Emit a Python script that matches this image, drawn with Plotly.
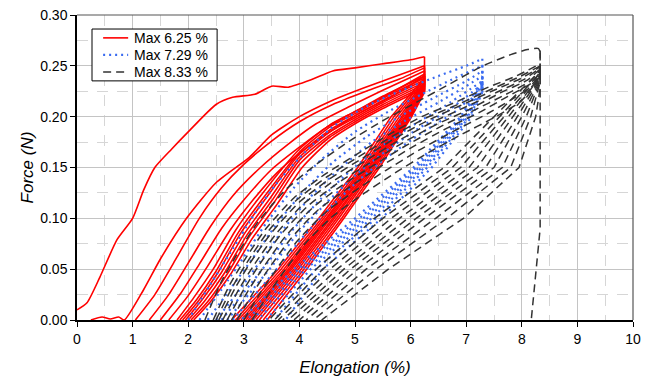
import plotly.graph_objects as go

# ---------------- data ----------------
X_TICKS = [0, 1, 2, 3, 4, 5, 6, 7, 8, 9, 10]
Y_TICKS = [0.00, 0.05, 0.10, 0.15, 0.20, 0.25, 0.30]
SERIES_NAMES = ["Max 6.25 %", "Max 7.29 %", "Max 8.33 %"]
PEAK_X = [6.25, 7.29, 8.33]
UNLOAD_LEVELS = [0.20, 0.15, 0.10, 0.05, 0.0]

# --- Max 6.25 % (red) : loading curves
RED_LOAD_X = [
    [0, 0.18, 0.41, 0.72, 1.0, 1.2, 1.4, 1.7, 2.0, 2.5, 2.8, 3.2, 3.5, 3.8, 4.2, 4.6, 5.0, 5.5, 6.0, 6.25],
    [0.25, 0.45, 0.6, 0.75, 0.85, 1.2, 1.5, 1.97, 2.5, 3.1, 3.5, 4.0, 4.55, 5.0, 5.5, 6.25],
    [1.05, 1.4, 1.8, 2.2, 2.6, 3.0, 3.5, 4.0, 4.6, 5.2, 5.8, 6.25],
    [1.3, 1.65, 2.0, 2.4, 2.8, 3.3, 3.8, 4.3, 4.9, 5.5, 6.25],
    [1.5, 1.85, 2.2, 2.6, 3.0, 3.5, 4.0, 4.5, 5.0, 5.6, 6.25],
    [1.65, 2.0, 2.35, 2.75, 3.15, 3.6, 4.1, 4.6, 5.1, 5.7, 6.25],
    [1.8, 2.1, 2.45, 2.85, 3.3, 4.0, 4.55, 5.0, 5.5, 6.25],
    [1.85, 2.15, 2.5, 2.9, 3.35, 4.0, 4.55, 5.0, 5.5, 6.25],
    [1.9, 2.2, 2.55, 2.95, 3.4, 4.0, 4.55, 5.0, 5.5, 6.25],
    [1.95, 2.25, 2.6, 3.0, 3.45, 4.0, 4.55, 5.0, 5.5, 6.25],
    [2.0, 2.3, 2.65, 3.05, 3.5, 4.0, 4.55, 5.0, 5.5, 6.25],
    [2.05, 2.35, 2.7, 3.1, 3.55, 4.0, 4.55, 5.0, 5.5, 6.25],
    [2.1, 2.4, 2.75, 3.15, 3.6, 4.05, 4.55, 5.0, 5.5, 6.25],
]
RED_LOAD_Y = [
    [0.01, 0.017, 0.042, 0.079, 0.10, 0.128, 0.15, 0.168, 0.185, 0.212, 0.219, 0.222, 0.23, 0.229, 0.236, 0.245, 0.248, 0.252, 0.256, 0.259],
    [0, 0.003, 0.001, 0.003, 0, 0.03, 0.06, 0.10, 0.135, 0.16, 0.182, 0.2, 0.215, 0.225, 0.235, 0.25],
    [0, 0.025, 0.062, 0.10, 0.13, 0.153, 0.176, 0.195, 0.212, 0.225, 0.237, 0.248],
    [0, 0.025, 0.056, 0.092, 0.122, 0.15, 0.173, 0.193, 0.21, 0.226, 0.245],
    [0, 0.025, 0.055, 0.09, 0.118, 0.148, 0.17, 0.19, 0.205, 0.222, 0.242],
    [0, 0.024, 0.053, 0.088, 0.117, 0.145, 0.168, 0.187, 0.204, 0.221, 0.24],
    [0, 0.022, 0.05, 0.088, 0.122, 0.168, 0.192, 0.205, 0.22, 0.24],
    [0, 0.02, 0.048, 0.086, 0.12, 0.165, 0.19, 0.203, 0.218, 0.238],
    [0, 0.02, 0.048, 0.086, 0.12, 0.163, 0.187, 0.201, 0.216, 0.236],
    [0, 0.02, 0.047, 0.084, 0.118, 0.16, 0.185, 0.199, 0.214, 0.234],
    [0, 0.019, 0.046, 0.083, 0.117, 0.157, 0.182, 0.197, 0.212, 0.232],
    [0, 0.018, 0.045, 0.082, 0.116, 0.153, 0.18, 0.195, 0.21, 0.23],
    [0, 0.018, 0.044, 0.08, 0.114, 0.15, 0.177, 0.193, 0.208, 0.228],
]
# --- red unloading curves: force at the peak, then elongation at UNLOAD_LEVELS
RED_UNLOAD_TOP = [0.238, 0.236, 0.234, 0.233, 0.232, 0.231, 0.23, 0.229, 0.228, 0.227, 0.226, 0.225, 0.224]
RED_UNLOAD_X = [
    [5.65, 5.05, 4.35, 3.62, 2.78],
    [5.7, 5.1, 4.4, 3.67, 2.85],
    [5.75, 5.14, 4.44, 3.72, 2.9],
    [5.8, 5.17, 4.48, 3.76, 2.95],
    [5.84, 5.2, 4.5, 3.8, 3.0],
    [5.87, 5.23, 4.53, 3.83, 3.04],
    [5.9, 5.25, 4.56, 3.86, 3.08],
    [5.92, 5.28, 4.6, 3.9, 3.12],
    [5.94, 5.3, 4.63, 3.94, 3.17],
    [5.96, 5.33, 4.67, 3.98, 3.22],
    [5.98, 5.36, 4.71, 4.03, 3.28],
    [6.0, 5.4, 4.76, 4.08, 3.35],
    [6.02, 5.44, 4.8, 4.13, 3.42],
]

# --- Max 7.29 % (blue)
BLUE_LOAD_X = [
    [2.0, 2.4, 2.8, 3.2, 3.6, 4.1, 4.6, 5.2, 5.8, 6.5, 7.0, 7.29],
    [2.2, 2.6, 3.0, 3.4, 3.9, 4.4, 5.0, 5.6, 6.2, 6.8, 7.29],
    [2.35, 2.75, 3.15, 3.6, 4.1, 4.6, 5.2, 5.8, 6.4, 7.0, 7.29],
    [2.5, 2.9, 3.3, 3.75, 4.25, 4.75, 5.3, 5.9, 6.5, 7.0, 7.29],
    [2.6, 3.0, 3.45, 3.9, 4.4, 4.9, 5.45, 6.0, 6.6, 7.29],
    [2.7, 3.1, 3.55, 4.0, 4.5, 5.0, 5.55, 6.1, 6.7, 7.29],
    [2.8, 3.2, 3.65, 4.1, 4.6, 5.1, 5.65, 6.2, 6.8, 7.29],
]
BLUE_LOAD_Y = [
    [0, 0.035, 0.07, 0.105, 0.135, 0.165, 0.19, 0.21, 0.225, 0.24, 0.25, 0.257],
    [0, 0.03, 0.062, 0.095, 0.13, 0.158, 0.185, 0.205, 0.222, 0.238, 0.25],
    [0, 0.03, 0.06, 0.095, 0.128, 0.155, 0.18, 0.2, 0.218, 0.235, 0.245],
    [0, 0.028, 0.058, 0.092, 0.124, 0.15, 0.175, 0.196, 0.214, 0.23, 0.24],
    [0, 0.027, 0.058, 0.09, 0.12, 0.146, 0.17, 0.19, 0.21, 0.235],
    [0, 0.026, 0.056, 0.087, 0.116, 0.142, 0.166, 0.187, 0.207, 0.232],
    [0, 0.025, 0.054, 0.084, 0.113, 0.139, 0.163, 0.184, 0.205, 0.23],
]
BLUE_UNLOAD_TOP = [0.235, 0.232, 0.23, 0.228, 0.226, 0.225, 0.224]
BLUE_UNLOAD_X = [
    [6.9, 6.05, 5.0, 3.9, 2.95],
    [6.93, 6.1, 5.08, 3.98, 3.05],
    [6.96, 6.15, 5.15, 4.05, 3.15],
    [7.0, 6.2, 5.22, 4.12, 3.25],
    [7.03, 6.25, 5.3, 4.2, 3.4],
    [7.06, 6.3, 5.38, 4.3, 3.55],
    [7.1, 6.38, 5.48, 4.42, 3.75],
]

# --- Max 8.33 % (black)
BLACK_LOAD_X = [
    [2.3, 2.6, 2.85, 3.25, 3.75, 4.3, 4.9, 5.5, 6.1, 6.7, 7.3, 7.8, 8.1, 8.3, 8.33],
    [2.45, 2.75, 3.0, 3.4, 3.9, 4.45, 5.0, 5.6, 6.2, 6.8, 7.4, 7.9, 8.33],
    [2.5, 2.8, 3.05, 3.45, 3.95, 4.5, 5.05, 5.65, 6.25, 6.85, 7.45, 7.95, 8.33],
    [2.55, 2.85, 3.1, 3.5, 4.0, 4.55, 5.1, 5.7, 6.3, 6.9, 7.5, 8.0, 8.33],
    [2.62, 2.92, 3.17, 3.57, 4.07, 4.62, 5.17, 5.77, 6.37, 6.97, 7.55, 8.05, 8.33],
    [2.7, 3.0, 3.25, 3.65, 4.15, 4.7, 5.25, 5.85, 6.45, 7.05, 7.6, 8.1, 8.33],
    [2.78, 3.08, 3.33, 3.73, 4.23, 4.78, 5.33, 5.93, 6.53, 7.13, 7.68, 8.15, 8.33],
    [2.88, 3.18, 3.43, 3.83, 4.33, 4.88, 5.43, 6.03, 6.63, 7.23, 7.75, 8.2, 8.33],
    [3.0, 3.3, 3.55, 3.95, 4.45, 5.0, 5.55, 6.15, 6.75, 7.35, 7.85, 8.25, 8.33],
    [3.15, 3.45, 3.7, 4.1, 4.6, 5.15, 5.7, 6.3, 6.9, 7.5, 8.0, 8.33],
]
BLACK_LOAD_Y = [
    [0, 0.038, 0.062, 0.096, 0.128, 0.153, 0.176, 0.196, 0.214, 0.232, 0.25, 0.261, 0.266, 0.267, 0.263],
    [0, 0.035, 0.058, 0.09, 0.12, 0.143, 0.162, 0.182, 0.2, 0.214, 0.229, 0.24, 0.252],
    [0, 0.033, 0.056, 0.088, 0.118, 0.141, 0.16, 0.18, 0.198, 0.212, 0.227, 0.239, 0.25],
    [0, 0.032, 0.055, 0.086, 0.116, 0.139, 0.158, 0.178, 0.196, 0.211, 0.226, 0.238, 0.249],
    [0, 0.031, 0.053, 0.084, 0.114, 0.137, 0.156, 0.176, 0.194, 0.209, 0.224, 0.237, 0.248],
    [0, 0.03, 0.052, 0.083, 0.112, 0.135, 0.154, 0.174, 0.192, 0.207, 0.223, 0.236, 0.247],
    [0, 0.029, 0.05, 0.081, 0.11, 0.133, 0.152, 0.172, 0.19, 0.206, 0.221, 0.235, 0.246],
    [0, 0.028, 0.049, 0.079, 0.108, 0.13, 0.15, 0.17, 0.188, 0.204, 0.22, 0.234, 0.245],
    [0, 0.027, 0.047, 0.077, 0.105, 0.127, 0.147, 0.167, 0.185, 0.202, 0.218, 0.233, 0.244],
    [0, 0.026, 0.046, 0.075, 0.102, 0.124, 0.144, 0.164, 0.182, 0.199, 0.216, 0.24],
]
BLACK_UNLOAD_TOP = [0.245, 0.243, 0.241, 0.24, 0.238, 0.237, 0.236, 0.235, 0.234, 0.228]
BLACK_UNLOAD_X = [
    [7.5, 6.6, 5.35, 4.3, 3.45],
    [7.6, 6.75, 5.5, 4.42, 3.55],
    [7.68, 6.9, 5.65, 4.55, 3.62],
    [7.76, 7.05, 5.8, 4.68, 3.7],
    [7.84, 7.2, 5.95, 4.8, 3.8],
    [7.92, 7.35, 6.1, 4.92, 3.9],
    [8.0, 7.5, 6.25, 5.05, 4.0],
    [8.08, 7.65, 6.45, 5.2, 4.12],
    [8.16, 7.8, 6.65, 5.38, 4.25],
    [8.25, 7.95, 6.95, 5.6, 4.4],
]
# final (failure) unloading of the 8.33 % sample
BLACK_FAIL_X = [8.33, 8.33, 8.17]
BLACK_FAIL_Y = [0.265, 0.09, 0.0]

# ---------------- styles ----------------
STYLES = [
    dict(color="#FF0000", width=1.6, dash="solid"),
    dict(color="#3A6BF0", width=2.2, dash="2px,4px"),
    dict(color="#333333", width=1.5, dash="8px,5px"),
]

fig = go.Figure()


def add_group(idx, load_x, load_y, unload_top, unload_x):
    peak = PEAK_X[idx]
    name = SERIES_NAMES[idx]
    for i in range(len(load_x)):
        fig.add_trace(go.Scatter(
            x=load_x[i], y=load_y[i], mode="lines",
            line=dict(STYLES[idx], shape="spline", smoothing=0.6),
            name=name, showlegend=False, hoverinfo="skip"))
        if i < len(unload_x):
            fig.add_trace(go.Scatter(
                x=[peak, peak] + list(unload_x[i]),
                y=[load_y[i][-1], unload_top[i]] + UNLOAD_LEVELS,
                mode="lines", line=STYLES[idx],
                name=name, showlegend=False, hoverinfo="skip"))


add_group(0, RED_LOAD_X, RED_LOAD_Y, RED_UNLOAD_TOP, RED_UNLOAD_X)
add_group(1, BLUE_LOAD_X, BLUE_LOAD_Y, BLUE_UNLOAD_TOP, BLUE_UNLOAD_X)
add_group(2, BLACK_LOAD_X, BLACK_LOAD_Y, BLACK_UNLOAD_TOP, BLACK_UNLOAD_X)
fig.add_trace(go.Scatter(x=BLACK_FAIL_X, y=BLACK_FAIL_Y, mode="lines", line=STYLES[2],
                         name=SERIES_NAMES[2], showlegend=False, hoverinfo="skip"))

FONT = "Liberation Sans, Arial, sans-serif"

# legend drawn as a framed box inside the plot (paper coordinates)
LEG_X0, LEG_X1, LEG_Y0, LEG_Y1 = 0.027, 0.252, 0.784, 0.954
LEG_LINE_X0, LEG_LINE_X1, LEG_TEXT_X = 0.047, 0.092, 0.099
LEG_ROWS_Y = [0.925, 0.869, 0.813]

shapes = [
    dict(type="line", xref="paper", yref="paper", x0=0, x1=1, y0=1, y1=1,
         line=dict(color="#555555", width=1.2), layer="above"),
    dict(type="line", xref="paper", yref="paper", x0=1, x1=1, y0=0, y1=1,
         line=dict(color="#555555", width=1.2), layer="above"),
    dict(type="rect", xref="paper", yref="paper", x0=LEG_X0, x1=LEG_X1, y0=LEG_Y0, y1=LEG_Y1,
         line=dict(color="black", width=1), fillcolor="white", layer="above"),
]
annotations = []
for k, name in enumerate(SERIES_NAMES):
    st = STYLES[k]
    shapes.append(dict(type="line", xref="paper", yref="paper",
                       x0=LEG_LINE_X0, x1=LEG_LINE_X1, y0=LEG_ROWS_Y[k], y1=LEG_ROWS_Y[k],
                       line=dict(color=st["color"], width=st["width"], dash=st["dash"]),
                       layer="above"))
    annotations.append(dict(xref="paper", yref="paper", x=LEG_TEXT_X, y=LEG_ROWS_Y[k],
                            xanchor="left", yanchor="middle", showarrow=False, text=name,
                            font=dict(family=FONT, size=14, color="black")))

fig.update_layout(
    width=650, height=377,
    margin=dict(l=77, r=17, t=15, b=57),
    paper_bgcolor="white", plot_bgcolor="white",
    font=dict(family=FONT, size=14, color="black"),
    showlegend=False,
    xaxis=dict(range=[0, 10], tickvals=X_TICKS, ticks="outside", ticklen=5,
               tickcolor="black", showline=True, linecolor="black", linewidth=1.5,
               showgrid=True, gridcolor="#c4c4c4", gridwidth=1, zeroline=False,
               automargin=False,
               minor=dict(dtick=0.5, showgrid=True, gridcolor="#d6d6d6",
                          griddash="11px,9px", gridwidth=1),
               tickfont=dict(size=14),
               title=dict(text="<i>Elongation (%)</i>", font=dict(size=17), standoff=17)),
    yaxis=dict(range=[0, 0.30], tickvals=Y_TICKS, tickformat=".2f", ticks="outside",
               ticklen=5, tickcolor="black", showline=True, linecolor="black", linewidth=1.5,
               showgrid=True, gridcolor="#c4c4c4", gridwidth=1, zeroline=False,
               automargin=False,
               minor=dict(dtick=0.025, showgrid=True, gridcolor="#d6d6d6",
                          griddash="11px,9px", gridwidth=1),
               tickfont=dict(size=14),
               title=dict(text="<i>Force (N)</i>", font=dict(size=17), standoff=2)),
    shapes=shapes,
    annotations=annotations,
)

fig.write_html("out.html", config={"displayModeBar": False},
               post_script="document.body.style.margin='0';document.body.style.overflow='hidden';")
